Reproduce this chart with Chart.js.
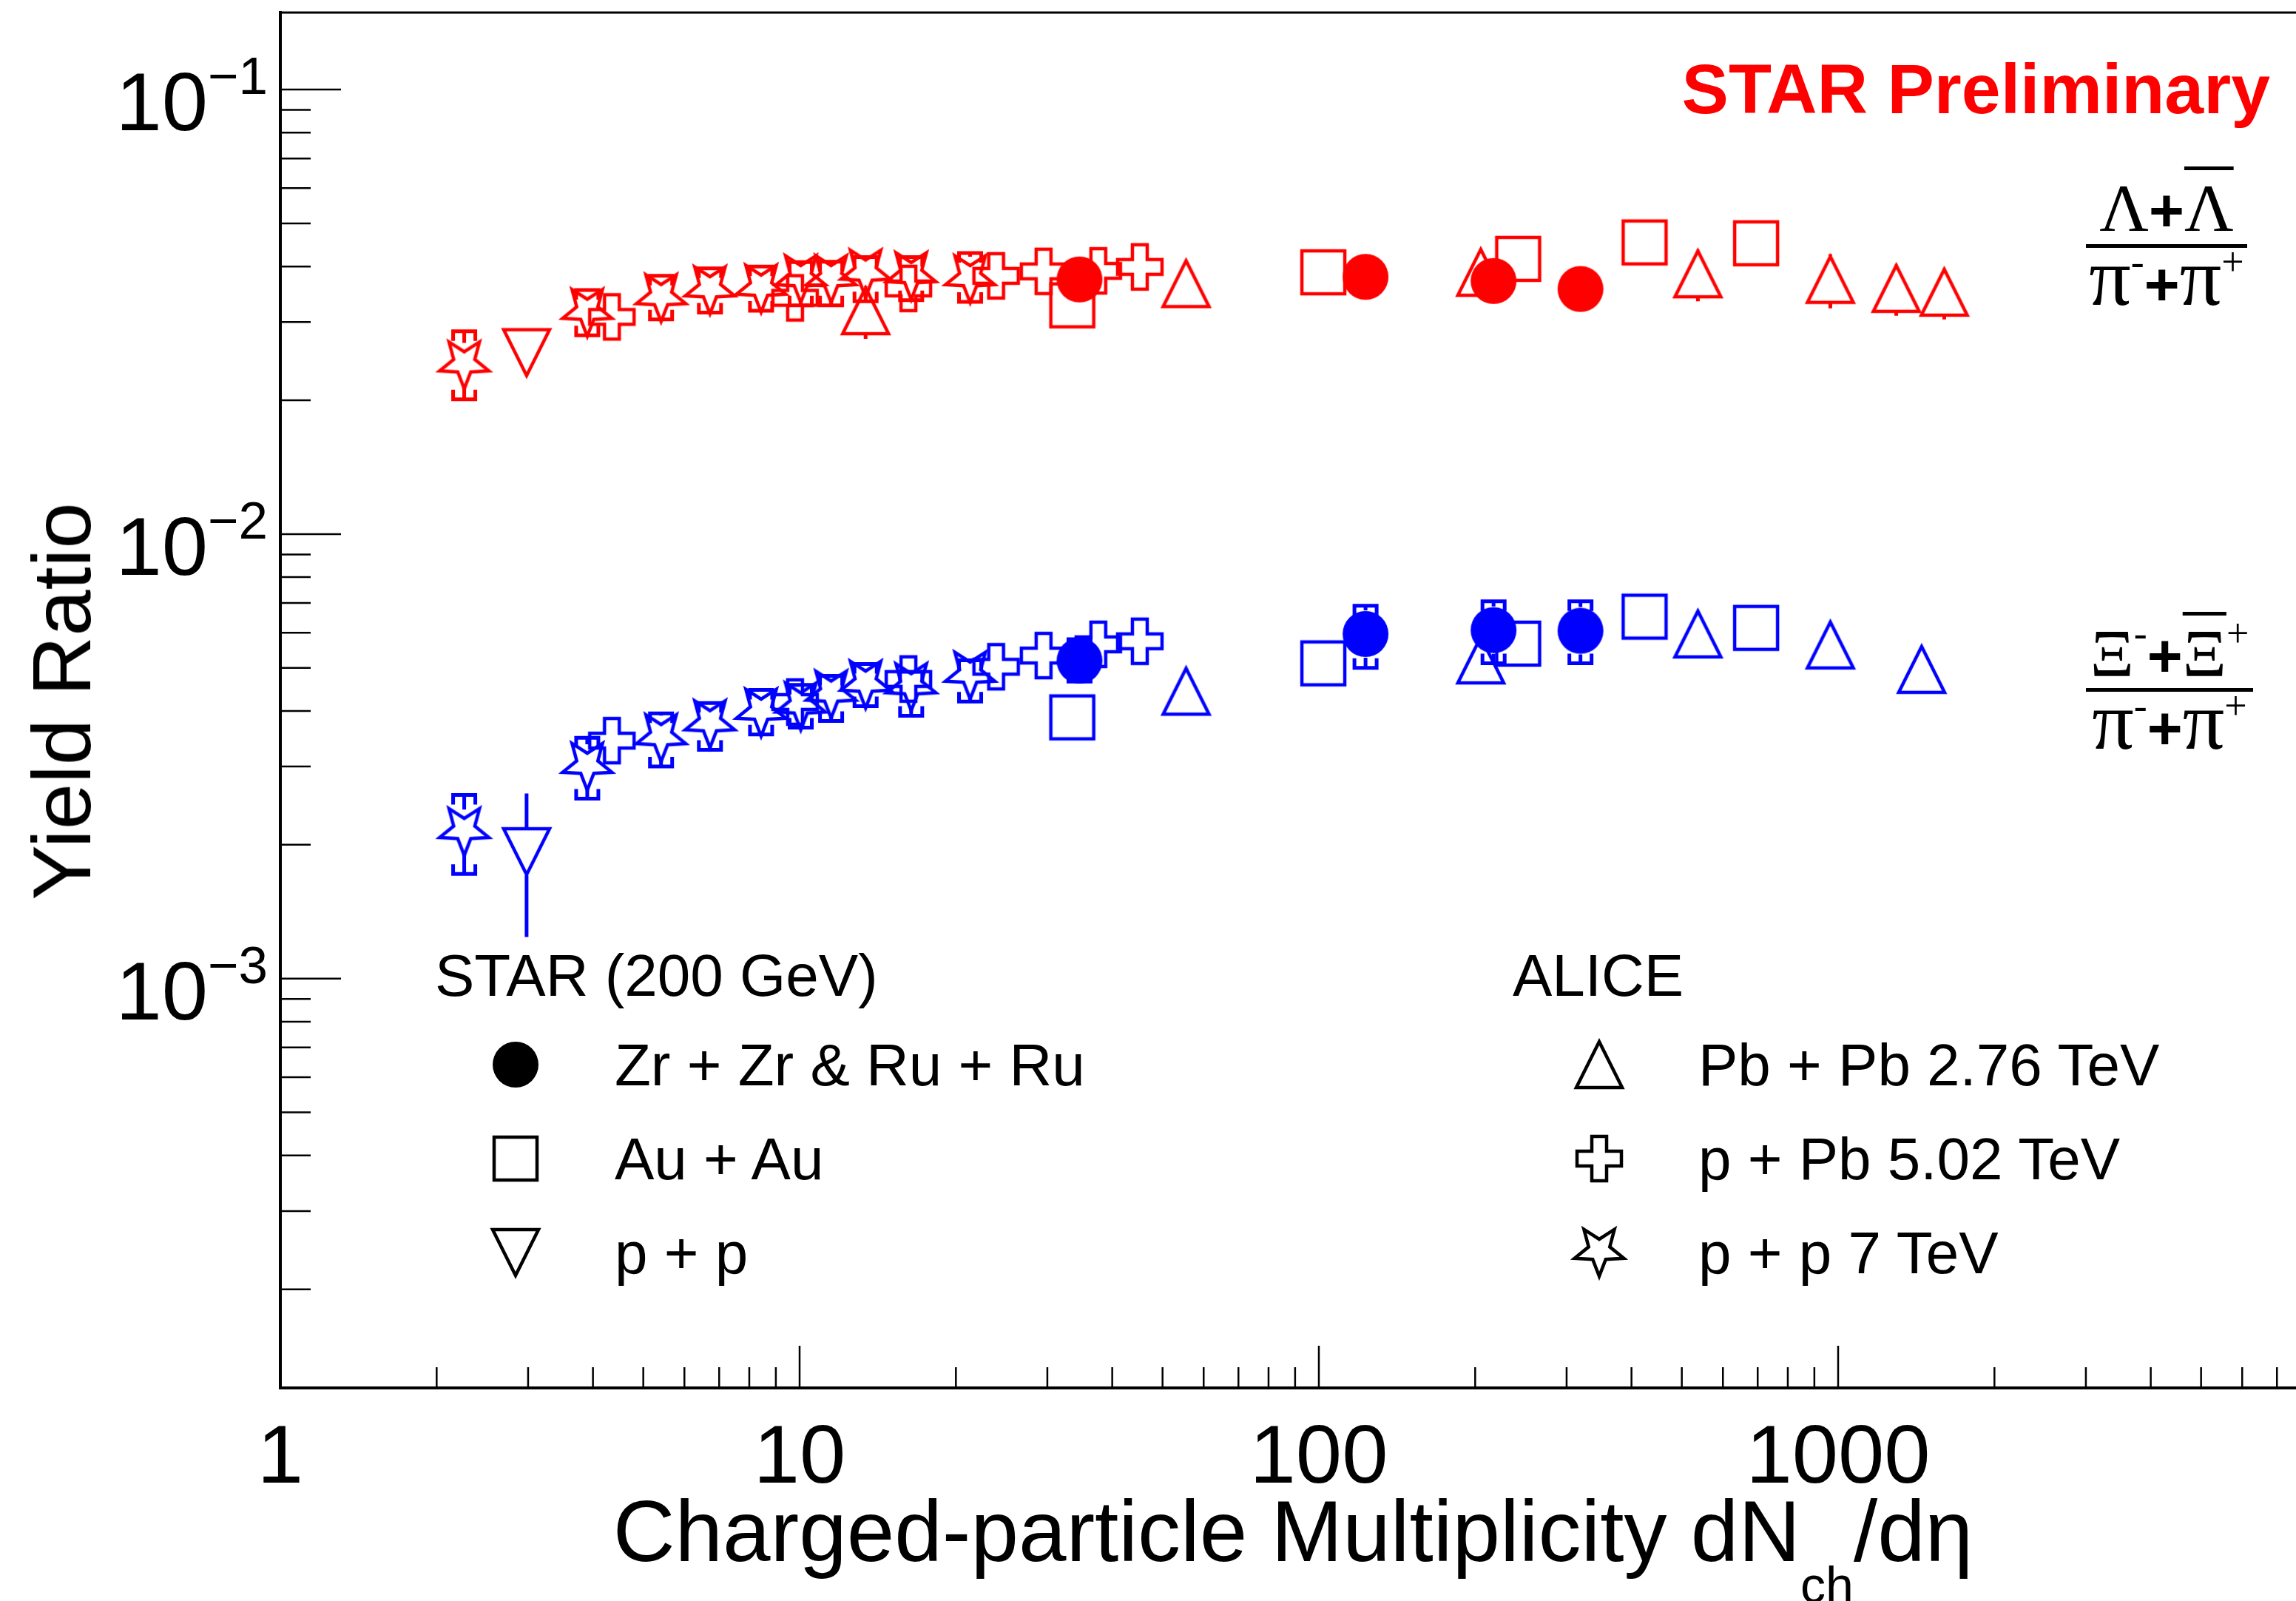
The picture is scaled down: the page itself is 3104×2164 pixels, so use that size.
<!DOCTYPE html>
<html>
<head>
<meta charset="utf-8">
<script src="https://cdn.jsdelivr.net/npm/chart.js@4.4.1/dist/chart.umd.min.js"></script>
<style>
  body { margin: 0; background: #fff; }
  #wrap { position: relative; width: 3104px; height: 2164px; overflow: hidden; background: #fff; }
  #chart { position: absolute; left: 0; top: 0; }
  .txt { position: absolute; font-family: "Liberation Sans", Arial, sans-serif; color: #000; line-height: 1; white-space: nowrap; }
  .frac { position: absolute; font-family: "Liberation Serif", "DejaVu Serif", serif; font-size: 92px; line-height: 1; text-align: center; white-space: nowrap; }
  .frac b { font-family: "Liberation Sans", sans-serif; font-weight: bold; font-size: 82px; }
  .frac .pi { font-size: 112px; }
  .frac .sp { font-size: 54px; position: relative; top: -40px; }
  .ov { text-decoration: overline; text-decoration-thickness: 5px; }
  .bar { position: absolute; height: 5px; background: #000; }
</style>
</head>
<body>
<div id="wrap">
  <canvas id="chart" width="3104" height="2164"></canvas>

  <div class="txt" style="right:35px; top:73px; font-size:95px; font-weight:bold; color:#ff0000;">STAR Preliminary</div>

  <!-- ratio labels -->
  <div class="frac" style="left:2820px; top:235px; width:218px;">Λ<b>+</b><span class="ov">Λ</span></div>
  <div class="bar" style="left:2820px; top:330px; width:218px;"></div>
  <div class="frac" style="left:2820px; top:318px; width:218px;"><span class="pi">π</span><span class="sp">-</span><b>+</b><span class="pi">π</span><span class="sp">+</span></div>

  <div class="frac" style="left:2820px; top:837px; width:226px;">Ξ<span class="sp">-</span><b>+</b><span class="ov">Ξ</span><span class="sp">+</span></div>
  <div class="bar" style="left:2820px; top:930px; width:226px;"></div>
  <div class="frac" style="left:2820px; top:918px; width:226px;"><span class="pi">π</span><span class="sp">-</span><b>+</b><span class="pi">π</span><span class="sp">+</span></div>

  <!-- axis titles -->
  <div class="txt" style="left:84px; top:948px; font-size:112px; transform: translate(-50%, -50%) rotate(-90deg);">Yield Ratio</div>
  <div class="txt" id="xtitle" style="left:1748px; top:2012px; font-size:116px; transform: translateX(-50%);">Charged-particle Multiplicity dN<span style="font-size:68px; position:relative; top:56px;">ch</span>/dη</div>

  <!-- legend -->
  <div class="txt" style="left:588px; top:1279px; font-size:80px;">STAR (200 GeV)</div>
  <div class="txt" style="left:2045px; top:1279px; font-size:80px;">ALICE</div>
  <div id="legend"></div>
</div>

<script>
// x values: charged-particle multiplicity dNch/deta
const zrRuX = [34.6, 123, 217, 319];
const auAuX = [33.5, 102, 242, 424, 695];
const starPpX = [2.98];
const pbPbLamX = [13.4, 55.5, 205, 537, 966, 1294, 1601];
const pbPbXiX = [55.5, 205, 537, 966, 1448];
const pPbX = [4.35, 9.8, 16.2, 23.9, 29.5, 37.6, 45.2];
const pp7X = [2.26, 3.9, 5.41, 6.72, 8.43, 10.05, 11.5, 13.4, 16.4, 21.3];

// (Lambda + antiLambda) / (pi- + pi+)
const lamZrRu = [0.0374, 0.0379, 0.0371, 0.0356];
const lamAuAu = [0.0327, 0.0388, 0.0416, 0.0453, 0.0451];
const lamStarPp = [0.0256];
const lamPbPb = [0.0318, 0.0366, 0.0388, 0.0385, 0.0374, 0.0357, 0.0350];
const lamPbPbLo = [0.0275, null, null, 0.0334, 0.0322, 0.0310, 0.0304];
const lamPbPbHi = [0.0361, null, null, 0.0436, 0.0426, 0.0404, 0.0396];
const lamPPb = [0.0308, 0.0340, 0.0357, 0.0381, 0.0390, 0.0391, 0.0399];
const lamPp7 = [0.0240, 0.0315, 0.0340, 0.0354, 0.0357, 0.0375, 0.0375, 0.0386, 0.0381, 0.0375];
const lamPp7Lo = [0.0201, 0.0280, 0.0304, 0.0315, 0.0318, 0.0327, 0.0327, 0.0334, 0.0336, 0.0333];
const lamPp7Hi = [0.0286, 0.0354, 0.0381, 0.0396, 0.0400, 0.0409, 0.0410, 0.0420, 0.0420, 0.0429];

// (Xi- + antiXi+) / (pi- + pi+)
const xiZrRu = [0.00519, 0.00596, 0.00608, 0.00606];
const xiZrRuLo = [0.00466, 0.00500, 0.00512, 0.00512];
const xiZrRuHi = [0.00580, 0.00690, 0.00706, 0.00706];
const xiAuAu = [0.00387, 0.00512, 0.00567, 0.00652, 0.00615];
const xiStarPp = [0.00193];
const xiStarPpLo = [0.00124];
const xiStarPpHi = [0.00261];
const xiPbPb = [0.00443, 0.00521, 0.00596, 0.00563, 0.00496];
const xiPPb = [0.00343, 0.00419, 0.00472, 0.00503, 0.00533, 0.00565, 0.00574];
const xiPp7 = [0.00214, 0.00300, 0.00348, 0.00374, 0.00397, 0.00410, 0.00436, 0.00459, 0.00453, 0.00481];
const xiPp7Lo = [0.00172, 0.00254, 0.00300, 0.00327, 0.00354, 0.00367, 0.00380, 0.00410, 0.00390, 0.00420];
const xiPp7Hi = [0.00259, 0.00348, 0.00395, 0.00417, 0.00446, 0.00458, 0.00480, 0.00510, 0.00490, 0.00520];

// axes
const xTickLabels = [1, 10, 100, 1000];
const yTickValues = [0.001, 0.01, 0.1];
const yTickExps = ['\u22123', '\u22122', '\u22121'];

const starLegend = ['Zr + Zr & Ru + Ru', 'Au + Au', 'p + p'];
const aliceLegend = ['Pb + Pb 2.76 TeV', 'p + Pb 5.02 TeV', 'p + p 7 TeV'];

const RED = '#ff0000', BLUE = '#0000ff';
const FONT = '"Liberation Sans", Arial, sans-serif';

// ROOT-like marker images
function makeMarker(shape, color) {
    const c = document.createElement('canvas');
    c.width = c.height = 80;
    const g = c.getContext('2d');
    const m = 40;
    g.strokeStyle = color;
    g.fillStyle = color;
    g.lineWidth = 4.5;
    g.beginPath();
    if (shape === 'circle') {
        g.arc(m, m, 31, 0, Math.PI * 2);
        g.fill();
        return c;
    }
    if (shape === 'square') {
        g.rect(m - 29, m - 29, 58, 58);
    } else if (shape === 'triUp') {
        g.moveTo(m, m - 31); g.lineTo(m + 31, m + 31); g.lineTo(m - 31, m + 31); g.closePath();
    } else if (shape === 'triDown') {
        g.moveTo(m - 31, m - 31); g.lineTo(m + 31, m - 31); g.lineTo(m, m + 31); g.closePath();
    } else if (shape === 'cross') {
        const r = 30, a = 10;
        const pts = [[-a, -r], [a, -r], [a, -a], [r, -a], [r, a], [a, a], [a, r], [-a, r], [-a, a], [-r, a], [-r, -a], [-a, -a]];
        pts.forEach((p, i) => i ? g.lineTo(m + p[0], m + p[1]) : g.moveTo(m + p[0], m + p[1]));
        g.closePath();
    } else if (shape === 'star') {
        // ROOT open star: one point down, two up
        for (let i = 0; i < 10; i++) {
            const ang = Math.PI / 2 + i * Math.PI / 5;
            const rr = i % 2 ? 15 : 35;
            const px = m + rr * Math.cos(ang), py = m - 3 + rr * Math.sin(ang);
            i ? g.lineTo(px, py) : g.moveTo(px, py);
        }
        g.closePath();
    }
    g.stroke();
    return c;
}

function pts(xs, ys) {
    return xs.map((x, i) => ({ x: x, y: ys[i] }));
}

function ds(label, xs, ys, shape, color, extra) {
    return Object.assign({
        label: label,
        data: pts(xs, ys),
        pointStyle: makeMarker(shape, color),
        pointRadius: 31,
        borderColor: color,
        backgroundColor: color
    }, extra || {});
}

// error bars: stat line outside the marker, brackets for systematics
const errorBars = {
    id: 'errorBars',
    beforeDatasetsDraw(chart) {
        const { ctx, scales: { x, y } } = chart;
        chart.data.datasets.forEach(d => {
            if (!d.errLo) return;
            ctx.save();
            ctx.strokeStyle = d.borderColor;
            ctx.lineWidth = 5;
            d.data.forEach((p, i) => {
                const lo = d.errLo[i], hi = d.errHi[i];
                if (lo == null) return;
                const px = x.getPixelForValue(p.x), py = y.getPixelForValue(p.y);
                const yl = y.getPixelForValue(lo), yh = y.getPixelForValue(hi);
                const gap = d.errGap || 32;
                ctx.beginPath();
                if (yh < py - gap) { ctx.moveTo(px, yh); ctx.lineTo(px, py - gap); }
                if (yl > py + gap) { ctx.moveTo(px, py + gap); ctx.lineTo(px, yl); }
                if (d.errBracket) {
                    const w = 15, t = 13;
                    ctx.moveTo(px - w, yh + t); ctx.lineTo(px - w, yh); ctx.lineTo(px + w, yh); ctx.lineTo(px + w, yh + t);
                    ctx.moveTo(px - w, yl - t); ctx.lineTo(px - w, yl); ctx.lineTo(px + w, yl); ctx.lineTo(px + w, yl - t);
                }
                ctx.stroke();
            });
            ctx.restore();
        });
    }
};

function isDecadeStep(v) {
    const s = v / Math.pow(10, Math.floor(Math.log10(v) + 1e-9));
    return Math.abs(s - Math.round(s)) < 1e-6 ? Math.round(s) : 0;
}

// inward ROOT-style ticks, top frame line and 10^n labels
const frame = {
    id: 'frame',
    afterDraw(chart) {
        const { ctx, chartArea: a, scales: { x, y } } = chart;
        ctx.save();
        ctx.strokeStyle = '#000';
        ctx.lineWidth = 2.5;
        ctx.beginPath();
        x.ticks.forEach(t => {
            const s = isDecadeStep(t.value);
            if (!s) return;
            const px = x.getPixelForValue(t.value);
            if (px <= a.left + 1 || px > a.right) return;
            ctx.moveTo(px, a.bottom);
            ctx.lineTo(px, a.bottom - (s === 1 ? 57 : 28));
        });
        y.ticks.forEach(t => {
            const s = isDecadeStep(t.value);
            if (!s) return;
            const py = y.getPixelForValue(t.value);
            if (py < a.top || py >= a.bottom - 1) return;
            ctx.moveTo(a.left, py);
            ctx.lineTo(a.left + (s === 1 ? 82 : 41), py);
        });
        ctx.stroke();
        ctx.lineWidth = 3;
        ctx.beginPath();
        ctx.moveTo(a.left, a.top);
        ctx.lineTo(a.right, a.top);
        ctx.stroke();

        ctx.fillStyle = '#000';
        ctx.textAlign = 'right';
        ctx.textBaseline = 'alphabetic';
        yTickValues.forEach((v, i) => {
            const py = y.getPixelForValue(v);
            ctx.font = '71px ' + FONT;
            const sw = ctx.measureText(yTickExps[i]).width;
            ctx.fillText(yTickExps[i], a.left - 17, py + 6);
            ctx.font = '112px ' + FONT;
            ctx.fillText('10', a.left - 17 - sw, py + 55);
        });
        ctx.restore();
    }
};

const datasets = [
    ds('Zr+Zr & Ru+Ru Λ', zrRuX, lamZrRu, 'circle', RED),
    ds('Zr+Zr & Ru+Ru Ξ', zrRuX, xiZrRu, 'circle', BLUE, { errLo: xiZrRuLo, errHi: xiZrRuHi, errBracket: true }),
    ds('Au+Au Λ', auAuX, lamAuAu, 'square', RED),
    ds('Au+Au Ξ', auAuX, xiAuAu, 'square', BLUE),
    ds('p+p Λ', starPpX, lamStarPp, 'triDown', RED),
    ds('p+p Ξ', starPpX, xiStarPp, 'triDown', BLUE, { errLo: xiStarPpLo, errHi: xiStarPpHi }),
    ds('Pb+Pb Λ', pbPbLamX, lamPbPb, 'triUp', RED, { errLo: lamPbPbLo, errHi: lamPbPbHi }),
    ds('Pb+Pb Ξ', pbPbXiX, xiPbPb, 'triUp', BLUE),
    ds('p+Pb Λ', pPbX, lamPPb, 'cross', RED),
    ds('p+Pb Ξ', pPbX, xiPPb, 'cross', BLUE),
    ds('pp 7 TeV Λ', pp7X, lamPp7, 'star', RED, { errLo: lamPp7Lo, errHi: lamPp7Hi, errBracket: true, errGap: 30 }),
    ds('pp 7 TeV Ξ', pp7X, xiPp7, 'star', BLUE, { errLo: xiPp7Lo, errHi: xiPp7Hi, errBracket: true, errGap: 30 })
];

const ctx = document.getElementById('chart').getContext('2d');
const chart = new Chart(ctx, {
    type: 'scatter',
    data: { datasets: datasets },
    options: {
        responsive: false,
        animation: false,
        devicePixelRatio: 1,
        layout: { autoPadding: false, padding: { left: 0, right: 0, top: 17, bottom: 0 } },
        plugins: {
            legend: { display: false },
            tooltip: { enabled: false }
        },
        scales: {
            x: {
                type: 'logarithmic',
                min: 1,
                max: 7617,
                grid: { display: false, drawTicks: false },
                border: { display: true, color: '#000', width: 4 },
                ticks: {
                    autoSkip: false,
                    maxRotation: 0,
                    minRotation: 0,
                    color: '#000',
                    padding: 30,
                    font: { family: FONT, size: 112 },
                    callback: v => xTickLabels.some(t => Math.abs(t - v) < 1e-6 * t) ? String(Math.round(v)) : ''
                },
                afterFit: s => { s.height = 288; s.paddingLeft = 0; s.paddingRight = 0; }
            },
            y: {
                type: 'logarithmic',
                min: 1.2e-4,
                max: 0.149,
                grid: { display: false, drawTicks: false },
                border: { display: true, color: '#000', width: 4 },
                ticks: { display: false },
                afterFit: s => { s.width = 379; s.paddingTop = 0; s.paddingBottom = 0; }
            }
        }
    },
    plugins: [errorBars, frame]
});

// legend (two columns)
const legend = document.getElementById('legend');
const rowsY = [1439, 1566, 1693];
function legendRow(shape, text, mx, tx, cy) {
    const m = makeMarker(shape, '#000');
    m.style.position = 'absolute';
    m.style.left = (mx - m.width / 2) + 'px';
    m.style.top = (cy - m.height / 2) + 'px';
    legend.appendChild(m);
    const t = document.createElement('div');
    t.className = 'txt';
    t.style.left = tx + 'px';
    t.style.top = (cy - 39) + 'px';
    t.style.fontSize = '80px';
    t.textContent = text;
    legend.appendChild(t);
}
['circle', 'square', 'triDown'].forEach((s, i) => legendRow(s, starLegend[i], 697, 831, rowsY[i]));
['triUp', 'cross', 'star'].forEach((s, i) => legendRow(s, aliceLegend[i], 2162, 2296, rowsY[i]));
</script>
</body>
</html>
